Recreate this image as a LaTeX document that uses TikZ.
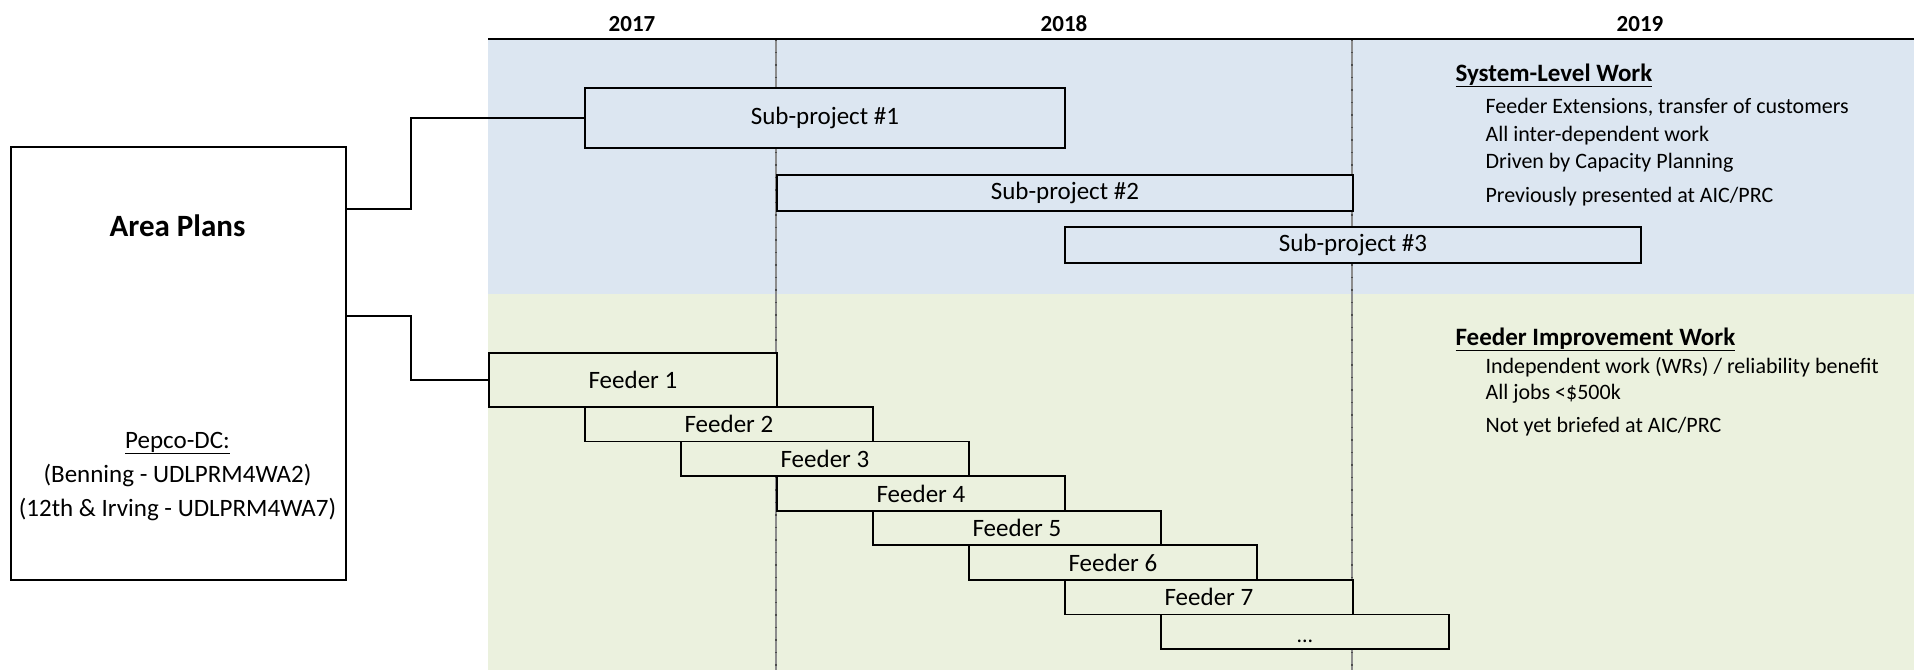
\documentclass[tikz,border=0pt]{standalone}
\usepackage{fontspec}
\setmainfont{Carlito}
\definecolor{bluebg}{HTML}{DCE6F1}
\definecolor{greenbg}{HTML}{EBF1DE}
\definecolor{gridgray}{HTML}{8C8C8C}
\begin{document}
\begin{tikzpicture}[x=1pt,y=-1pt,
  bar/.style={draw=black, line width=1.8pt, inner sep=0pt, anchor=north west,
    font=\fontsize{25}{30}\selectfont},
  sbar/.style={bar, fill=bluebg},
  fbar/.style={bar, fill=greenbg, minimum width=288pt, minimum height=34.6pt},
  conn/.style={draw=black, line width=1.8pt},
  gridline/.style={draw=gridgray, line width=1.6pt},
  gridtick/.style={draw=black!70, line width=1.6pt, dash pattern=on 1.5pt off 11pt},
  yearlbl/.style={anchor=base, font=\bfseries\fontsize{23}{27}\selectfont},
  ttl/.style={anchor=base west, font=\bfseries\fontsize{25}{30}\selectfont},
  itm/.style={anchor=base west, font=\fontsize{22}{26}\selectfont},
  lft/.style={anchor=base, font=\fontsize{25}{30}\selectfont}
]
\useasboundingbox (0,0) rectangle (1914,670);
% backgrounds
\fill[bluebg] (488,39) rectangle (1914,294);
\fill[greenbg] (488,294) rectangle (1914,670);
% grid lines
\draw[gridline] (776,39) -- (776,670);
\draw[gridline] (1352,39) -- (1352,670);
\draw[gridtick] (776,39) -- (776,670);
\draw[gridtick] (1352,39) -- (1352,670);
% axis
\draw[line width=2.5pt] (488,39) -- (1914,39);
\node[yearlbl] (y2017) at (632,31.5) {2017};
\node[yearlbl] (y2018) at (1064,31.5) {2018};
\node[yearlbl] (y2019) at (1640,31.5) {2019};
% area box
\node[draw=black, line width=1.8pt, anchor=north west, minimum width=335pt, minimum height=433pt, inner sep=0pt] (area) at (10,146) {};
\node[anchor=base, font=\bfseries\fontsize{31}{36}\selectfont] (areattl) at (177.5,236) {Area Plans};
\node[lft] (pepco) at (177.5,448) {\underline{Pepco-DC:}};
\node[lft] (benning) at (177.5,482) {(Benning - UDLPRM4WA2)};
\node[lft] (irving) at (177.5,516) {(12th \& Irving - UDLPRM4WA7)};
% sub-projects
\node[sbar, minimum width=480pt, minimum height=60pt] (sub1) at (584,87) {Sub-project \#1};
\node[sbar, minimum width=576pt, minimum height=36pt] (sub2) at (776,174) {Sub-project \#2};
\node[sbar, minimum width=576pt, minimum height=36pt] (sub3) at (1064,226) {Sub-project \#3};
% feeders
\node[bar, fill=greenbg, minimum width=288pt, minimum height=54pt] (f1) at (488,352) {Feeder 1};
\node[fbar] (f2) at (584,406) {Feeder 2};
\node[fbar] (f3) at (680,440.6) {Feeder 3};
\node[fbar] (f4) at (776,475.2) {Feeder 4};
\node[fbar] (f5) at (872,509.8) {Feeder 5};
\node[fbar] (f6) at (968,544.4) {Feeder 6};
\node[fbar] (f7) at (1064,579) {Feeder 7};
\node[fbar] (f8) at (1160,613.6) {};
\node[anchor=base, font=\fontsize{22}{26}\selectfont] (f8txt) at (f8.center |- 0,642.5) {...};
% connectors
\coordinate (j1) at (411,209);
\coordinate (j2) at (411,316);
\draw[conn] (area.east |- j1) -- (j1) |- (sub1.west);
\draw[conn] (area.east |- j2) -- (j2) |- (f1.west);
% right-hand notes
\node[ttl] (systtl) at (1452,81) {\underline{System-Level Work}};
\node[itm] (s1) at (1482,113.5) {Feeder Extensions, transfer of customers};
\node[itm] (s2) at (1482,141) {All inter-dependent work};
\node[itm] (s3) at (1482,168.5) {Driven by Capacity Planning};
\node[itm] (s4) at (1482,202.5) {Previously presented at AIC/PRC};
\node[ttl] (fdttl) at (1452,345) {\underline{Feeder Improvement Work}};
\node[itm] (d1) at (1482,373) {Independent work (WRs) / reliability benefit};
\node[itm] (d2) at (1482,399.5) {All jobs <\$500k};
\node[itm] (d3) at (1482,432) {Not yet briefed at AIC/PRC};
\end{tikzpicture}
\end{document}
